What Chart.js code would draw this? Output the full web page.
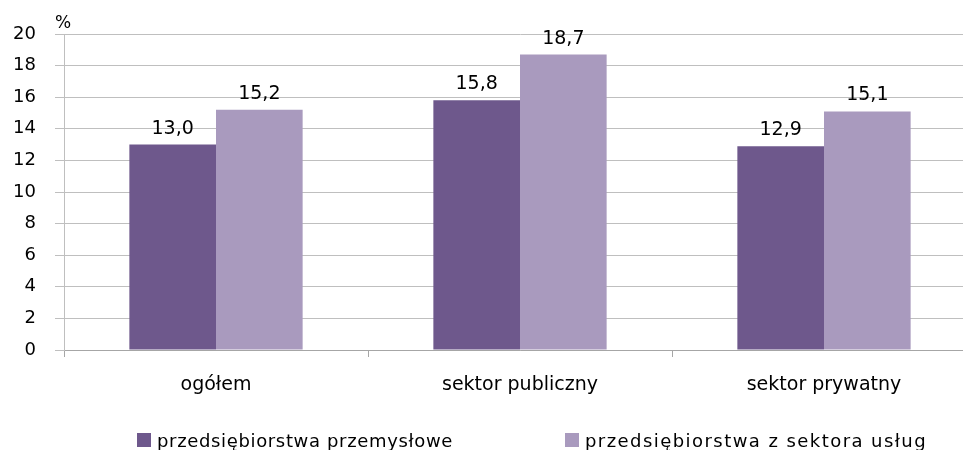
<!DOCTYPE html>
<html>
<head>
<meta charset="utf-8">
<script src="https://cdn.jsdelivr.net/npm/chart.js@4/dist/chart.umd.min.js"></script>
<style>
  html, body { margin: 0; padding: 0; background: #fff; overflow: hidden; }
  #wrap { position: relative; width: 980px; height: 450px; }
</style>
</head>
<body>
<div id="wrap"><canvas id="c" width="980" height="450"></canvas></div>
<script>
const categories = ["ogółem", "sektor publiczny", "sektor prywatny"];
const seriesNames = ["przedsiębiorstwa przemysłowe", "przedsiębiorstwa z sektora usług"];
const industrial = [13.0, 15.8, 12.9];
const services = [15.2, 18.7, 15.1];
const yTicks = [0, 2, 4, 6, 8, 10, 12, 14, 16, 18, 20];
const unitLabel = "%";

const colors = ["#6E588C", "#A99ABE"];
const FONT = "'DejaVu Sans', 'Liberation Sans', sans-serif";

const valueLabels = {
  id: 'valueLabels',
  afterDatasetsDraw(chart) {
    const ctx = chart.ctx;
    ctx.save();
    ctx.font = "19px " + FONT;
    ctx.fillStyle = "#000";
    ctx.textAlign = "center";
    ctx.textBaseline = "alphabetic";
    chart.data.datasets.forEach((ds, i) => {
      const meta = chart.getDatasetMeta(i);
      meta.data.forEach((bar, j) => {
        const v = ds.data[j];
        ctx.fillText(v.toFixed(1).replace('.', ','), bar.x, bar.y - 11);
      });
    });
    // unit label
    ctx.font = "17px " + FONT;
    ctx.textAlign = "left";
    ctx.fillText(unitLabel, chart.chartArea.left - 9, chart.chartArea.top - 6);
    // legend
    ctx.font = "18px " + FONT;
    const boxes = [137, 565];
    const targetW = [296, 342];
    chart.data.datasets.forEach((ds, i) => {
      ctx.fillStyle = ds.backgroundColor;
      ctx.fillRect(boxes[i], 433, 14, 14);
      ctx.fillStyle = "#000";
      ctx.letterSpacing = "0px";
      const w = ctx.measureText(ds.label).width;
      const sp = (targetW[i] - w) / ds.label.length;
      ctx.letterSpacing = sp.toFixed(2) + "px";
      ctx.fillText(ds.label, boxes[i] + 20, 447);
    });
    ctx.restore();
  }
};

new Chart(document.getElementById('c'), {
  type: 'bar',
  data: {
    labels: categories,
    datasets: [
      { label: seriesNames[0], data: industrial, backgroundColor: colors[0] },
      { label: seriesNames[1], data: services, backgroundColor: colors[1] }
    ]
  },
  options: {
    responsive: false,
    animation: false,
    events: [],
    layout: { padding: { top: 34, right: 4, left: 0, bottom: 0 } },
    plugins: { legend: { display: false }, tooltip: { enabled: false } },
    datasets: { bar: { barPercentage: 1.0, categoryPercentage: 0.57 } },
    scales: {
      x: {
        offset: true,
        grid: { display: true, drawOnChartArea: false, drawTicks: true, tickLength: 7, color: '#A6A6A6', offset: true },
        border: { display: true, color: '#A6A6A6', width: 1 },
        ticks: { color: '#000', font: { family: FONT, size: 19 }, padding: 17, maxRotation: 0 },
        afterFit(scale) { scale.height = 100; }
      },
      y: {
        min: 0, max: 20,
        afterBuildTicks(scale) { scale.ticks = yTicks.map(v => ({ value: v })); },
        grid: { color: '#BFBFBF', tickLength: 9, drawTicks: true },
        border: { display: true, color: '#BFBFBF', width: 1 },
        ticks: { color: '#000', font: { family: FONT, size: 18 }, padding: 19 },
        afterFit(scale) { scale.width = 64; }
      }
    }
  },
  plugins: [valueLabels]
});
</script>
</body>
</html>
